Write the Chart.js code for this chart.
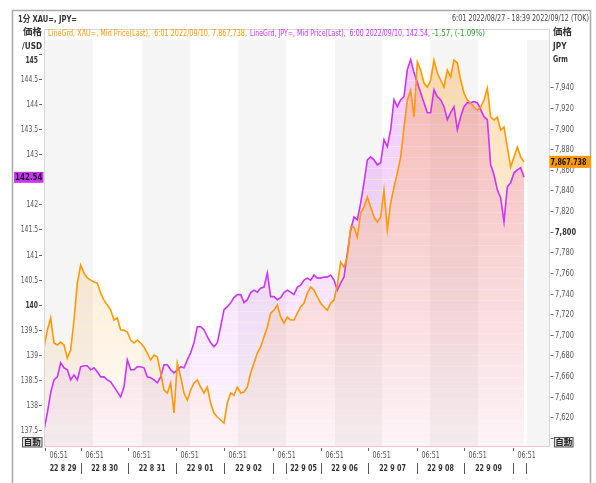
<!DOCTYPE html>
<html lang="ja">
<head>
  <meta charset="UTF-8" />
  <title>XAU=, JPY= 1分</title>
  <script src="https://cdn.jsdelivr.net/npm/chart.js"></script>
  <style>
    * { box-sizing: border-box; margin: 0; padding: 0; }
    body { background: #fff; }
    canvas { display: block; }
  </style>
</head>
<body>
  <canvas id="chart" width="596" height="483"></canvas>

  <script>
    // chart time in hours from 8/29 06:51 (weekend squeezed), one sample every 100 min
    const SAMPLE_START_H = -0.5;
    const SAMPLE_STEP_H = 5 / 3;

    // XAU= in JPY per gram (right axis)
    const xauGrm = [
      7687.2, 7704.7, 7716.3, 7692.1, 7690.1, 7693.0, 7690.1, 7677.5, 7685.3, 7714.4,
      7750.2, 7767.7, 7759.9, 7755.1, 7753.1, 7751.2, 7750.2, 7740.5, 7733.7, 7728.9,
      7724.0, 7714.4, 7716.3, 7704.7, 7704.7, 7702.7, 7695.0, 7692.1, 7695.0, 7692.1,
      7688.2, 7682.3, 7675.6, 7680.4, 7678.5, 7663.0, 7646.5,
      7643.6, 7653.3, 7624.2, 7672.7, 7659.1, 7643.6, 7636.8, 7646.5, 7653.3, 7656.2,
      7649.4, 7643.6, 7649.4, 7633.9, 7624.2, 7620.3, 7617.4, 7614.5, 7633.9, 7643.6,
      7641.6, 7649.4, 7643.6, 7644.5, 7649.4, 7663.0, 7672.7, 7682.3, 7688.2, 7697.9,
      7707.6, 7721.1, 7724.0, 7728.9, 7717.3, 7711.4, 7717.3,
      7714.4, 7714.4, 7721.1, 7727.0, 7730.8, 7740.5, 7746.4, 7743.4, 7736.7, 7730.8,
      7727.0, 7724.0, 7730.8, 7733.7, 7748.3, 7770.6, 7765.7, 7775.4, 7804.5, 7804.5,
      7794.8, 7818.1, 7823.9, 7833.6, 7823.9, 7814.2, 7809.4, 7814.2, 7840.4, 7801.6,
      7827.8, 7843.3, 7856.9, 7872.4, 7901.5, 7927.7,
      7937.4, 7911.2, 7964.5, 7956.8, 7944.2, 7940.3, 7947.1, 7966.5, 7953.9, 7947.1,
      7940.3, 7956.8, 7950.0, 7966.5, 7963.6, 7947.1, 7934.5, 7927.7, 7924.8, 7920.9,
      7918.0, 7920.9, 7927.7, 7939.3, 7911.2, 7908.3, 7911.2, 7898.6, 7901.5, 7882.1,
      7862.7, 7872.4, 7882.1, 7872.4, 7867.738
    ];

    // JPY= (USD/JPY, left axis)
    const jpyUsd = [
      137.50, 137.84, 138.24, 138.50, 138.56, 138.84, 138.74, 138.70, 138.50, 138.60,
      138.50, 138.76, 138.78, 138.78, 138.70, 138.74, 138.66, 138.56, 138.56, 138.50,
      138.46, 138.36, 138.26, 138.16, 138.36, 138.90, 138.70, 138.70, 138.76, 138.76,
      138.74, 138.56, 138.54, 138.50, 138.44, 138.56, 138.80,
      138.80, 138.70, 138.64, 138.70, 138.76, 138.74, 138.90, 139.04, 139.24, 139.56,
      139.56, 139.50, 139.36, 139.24, 139.16, 139.24, 139.56, 139.90, 139.96, 140.04,
      140.14, 140.20, 140.20, 140.04, 140.10, 140.24, 140.29, 140.25, 140.33, 140.35,
      140.63, 140.16, 140.16, 140.10, 140.14, 140.24, 140.29,
      140.25, 140.20, 140.35, 140.39, 140.49, 140.53, 140.49, 140.59, 140.53, 140.53,
      140.55, 140.55, 140.59, 140.49, 140.29, 140.43, 140.55, 141.03, 141.49, 141.75,
      141.69, 142.03, 142.43, 142.89, 142.95, 142.89, 142.79, 142.83, 143.29, 143.15,
      143.49, 144.09, 143.95, 144.09, 144.15, 144.69,
      144.89, 144.63, 144.43, 144.23, 144.03, 143.83, 143.83, 144.29, 144.15, 144.09,
      143.95, 143.69, 143.83, 143.95, 143.49, 143.75, 143.95, 144.03, 144.03, 144.05,
      144.03, 143.89, 143.75, 143.69, 142.79, 142.59, 142.29, 142.13, 141.65, 142.35,
      142.43, 142.63, 142.69, 142.73, 142.54
    ];

    const leftTicks = [137.5, 138, 138.5, 139, 139.5, 140, 140.5, 141, 141.5, 142, 142.5, 143, 143.5, 144, 144.5, 145];
    const rightTicks = [7600, 7620, 7640, 7660, 7680, 7700, 7720, 7740, 7760, 7780, 7800, 7820, 7840, 7860, 7880, 7900, 7920, 7940];
    const rightUnlabeled = [7600];
    const timeTickHours = [0, 18, 41.5, 65.5, 89.5, 114, 138, 161.5, 186, 209.5, 234];
    const timeTickLabel = "06:51";
    const daySepHours = [18, 41.5, 65.5, 89.5, 114, 120.5, 138, 161.5, 186, 209.5, 234, 240.5];
    const dayLabels = ["22 8 29", "22 8 30", "22 8 31", "22 9 01", "22 9 02", "22 9 05", "22 9 06", "22 9 07", "22 9 08", "22 9 09"];
    const dayCenterHours = [9, 29.75, 53.5, 77.5, 101.75, 129.25, 149.75, 173.75, 197.75, 221.75];
    const greyBands = [[-0.5, 24], [48.5, 72.5], [96.5, 120.5], [145, 168.5], [192.5, 216.5], [241, 252.5]];

    const ORANGE = "#ff9900";
    const PURPLE = "#cc33ff";
    const FONT = "'Liberation Sans Narrow', 'DejaVu Sans Condensed', 'Liberation Sans', 'Noto Sans CJK JP', sans-serif";

    const toPoints = arr => arr.map((v, i) => ({ x: SAMPLE_START_H + i * SAMPLE_STEP_H, y: v }));

    // text squeezed to a given width (the original uses a narrow UI font)
    function text(ctx, s, x, y, o) {
      ctx.save();
      ctx.font = o.font;
      ctx.fillStyle = o.color;
      ctx.textBaseline = "middle";
      ctx.textAlign = o.align || "left";
      const sx = o.width ? o.width / ctx.measureText(s).width : (o.sx || 1);
      ctx.translate(x, y);
      ctx.scale(sx, 1);
      ctx.fillText(s, 0, 0);
      ctx.restore();
    }
    function squeeze(ctx, font, sample, width) {
      ctx.save(); ctx.font = font;
      const w = ctx.measureText(sample).width;
      ctx.restore();
      return width / w;
    }

    // gradient fill with faint horizontal banding
    const fillCache = {};
    function bandedFill(chart, key, rgb, aTop, aBottom) {
      if (fillCache[key]) return fillCache[key];
      const a = chart.chartArea;
      const c = document.createElement("canvas");
      c.width = 1; c.height = chart.height;
      const g = c.getContext("2d");
      for (let y = 0; y < c.height; y++) {
        const t = Math.min(1, Math.max(0, (y - a.top) / (a.bottom - a.top)));
        const alpha = aTop + (aBottom - aTop) * t;
        const stripe = y > a.top && (y - a.top) % 11 === 7;
        g.fillStyle = stripe ? "rgba(228,100,150," + (alpha * 0.8).toFixed(3) + ")"
                             : "rgba(" + rgb + "," + alpha.toFixed(3) + ")";
        g.fillRect(0, y, 1, 1);
      }
      fillCache[key] = chart.ctx.createPattern(c, "repeat");
      return fillCache[key];
    }

    const decor = {
      id: "decor",
      beforeDraw(chart) {
        const { ctx, chartArea: a, scales: { x } } = chart;
        ctx.save();
        ctx.fillStyle = "#fff";
        ctx.fillRect(0, 0, chart.width, chart.height);
        ctx.fillStyle = "#f5f5f5";
        greyBands.forEach(([s, e]) => {
          const x0 = Math.max(a.left, x.getPixelForValue(s));
          const x1 = Math.min(a.right, x.getPixelForValue(e));
          ctx.fillRect(x0, a.top, x1 - x0, a.bottom - a.top);
        });
        ctx.restore();
      },
      afterDraw(chart) {
        const { ctx, chartArea: a, scales: { x, yL, yR } } = chart;
        ctx.save();

        // frames
        ctx.strokeStyle = "#a8a8a8";
        ctx.lineWidth = 1.5;
        ctx.beginPath();
        ctx.moveTo(12.5, chart.height); ctx.lineTo(12.5, 10.5);
        ctx.lineTo(590.5, 10.5); ctx.lineTo(590.5, chart.height);
        ctx.stroke();
        ctx.lineWidth = 1;
        ctx.strokeStyle = "#d6d6d6";
        ctx.strokeRect(a.left + 0.5, 29.5, a.right - a.left - 1, a.bottom - 29);
        ctx.strokeStyle = "#ecc4d4";
        ctx.beginPath(); ctx.moveTo(a.left, a.bottom + 0.5); ctx.lineTo(a.right, a.bottom + 0.5); ctx.stroke();

        // header
        text(ctx, "1分 XAU=, JPY=", 18, 19.5, { font: "bold 9.5px " + FONT, color: "#333", width: 59 });
        text(ctx, "6:01 2022/08/27 - 18:39 2022/09/12 (TOK)", 589, 19, { font: "9.5px " + FONT, color: "#444", width: 137, align: "right" });

        // legend line
        const lastXau = xauGrm[xauGrm.length - 1];
        const lastJpy = jpyUsd[jpyUsd.length - 1];
        const xauStr = lastXau.toLocaleString("en-US", { minimumFractionDigits: 3 });
        const jpyStr = lastJpy.toFixed(2);
        text(ctx, "LineGrd, XAU=, Mid Price(Last),  6:01 2022/09/10, " + xauStr + ",", 48, 33.5, { font: "8.5px " + FONT, color: ORANGE, width: 199 });
        text(ctx, "LineGrd, JPY=, Mid Price(Last),  6:00 2022/09/10, " + jpyStr + ",", 250, 33.5, { font: "8.5px " + FONT, color: PURPLE, width: 180 });
        text(ctx, "-1.57, (-1.09%)", 432, 33.5, { font: "8.5px " + FONT, color: "#2f9f2f", width: 53 });

        // axis titles
        text(ctx, "価格", 32.5, 33, { font: "bold 9.5px " + FONT, color: "#333", align: "center" });
        text(ctx, "/USD", 32, 46.5, { font: "bold 9.5px " + FONT, color: "#333", width: 20, align: "center" });
        text(ctx, "価格", 553, 33, { font: "bold 9.5px " + FONT, color: "#333" });
        text(ctx, "JPY", 553, 46.5, { font: "bold 9.5px " + FONT, color: "#333", width: 13.5 });
        text(ctx, "Grm", 553, 60, { font: "bold 9.5px " + FONT, color: "#333", width: 15 });

        // left axis
        const tickFont = "9.5px " + FONT;
        const sxL = squeeze(ctx, tickFont, "144.5", 17.3);
        ctx.strokeStyle = "#666";
        leftTicks.forEach(v => {
          const y = Math.round(yL.getPixelForValue(v)) + 0.5;
          ctx.beginPath(); ctx.moveTo(39, y); ctx.lineTo(42, y); ctx.stroke();
          const major = v % 5 === 0;
          const dy = v === leftTicks[leftTicks.length - 1] ? 6 : 0;
          text(ctx, String(v), 38, y + dy, { font: (major ? "bold " : "") + tickFont, color: major ? "#333" : "#555", sx: sxL, align: "right" });
        });

        // right axis
        const sxR = squeeze(ctx, tickFont, "7,940", 19);
        rightTicks.forEach(v => {
          const y = Math.round(yR.getPixelForValue(v)) + 0.5;
          ctx.beginPath(); ctx.moveTo(550.5, y); ctx.lineTo(553.5, y); ctx.stroke();
          if (rightUnlabeled.includes(v)) return;
          const major = v % 200 === 0;
          text(ctx, v.toLocaleString("en-US"), 555, y, { font: (major ? "bold " : "") + tickFont, color: major ? "#333" : "#555", sx: sxR });
        });

        // time axis
        const timeFont = "8.5px " + FONT;
        const sxT = squeeze(ctx, timeFont, timeTickLabel, 18.3);
        timeTickHours.forEach(h => {
          const px = Math.round(x.getPixelForValue(h)) + 0.5;
          ctx.beginPath(); ctx.moveTo(px, 448); ctx.lineTo(px, 451); ctx.stroke();
          text(ctx, timeTickLabel, Math.max(43, px + 4), 456, { font: timeFont, color: "#555", sx: sxT });
        });
        const dayFont = "bold 9.5px " + FONT;
        const sxD = squeeze(ctx, dayFont, "22 8 29", 26.7);
        dayLabels.forEach((d, i) => {
          text(ctx, d, x.getPixelForValue(dayCenterHours[i]), 469, { font: dayFont, color: "#333", sx: sxD, align: "center" });
        });
        ctx.strokeStyle = "#555";
        daySepHours.forEach(h => {
          const px = Math.round(x.getPixelForValue(h)) + 0.5;
          ctx.beginPath(); ctx.moveTo(px, 463); ctx.lineTo(px, 474); ctx.stroke();
        });

        // last value boxes
        const yj = yL.getPixelForValue(lastJpy);
        ctx.fillStyle = PURPLE;
        ctx.fillRect(14, yj - 5.5, 29.5, 11);
        text(ctx, jpyStr, 42.5, yj + 0.5, { font: "bold 9.5px " + FONT, color: "#1a1a1a", width: 27.5, align: "right" });
        const yx = yR.getPixelForValue(lastXau);
        ctx.fillStyle = ORANGE;
        ctx.fillRect(549.5, yx - 6, 41.5, 12);
        text(ctx, xauStr, 550.5, yx + 0.5, { font: "bold 9.5px " + FONT, color: "#111", width: 36 });

        // auto-scale buttons
        [[22.5, 19.5], [554.5, 18.5]].forEach(([bx, bw]) => {
          ctx.fillStyle = "#e2e2e2";
          ctx.fillRect(bx, 437.5, bw, 9.5);
          ctx.strokeStyle = "#555";
          ctx.strokeRect(bx, 437.5, bw, 9.5);
          text(ctx, "自動", bx + bw / 2, 442.5, { font: "bold 8.5px " + FONT, color: "#222", align: "center" });
        });

        ctx.restore();
      }
    };

    const chart = new Chart(document.getElementById("chart"), {
      type: "line",
      data: {
        datasets: [
          {
            label: "XAU=",
            data: toPoints(xauGrm),
            yAxisID: "yR",
            borderColor: ORANGE,
            borderWidth: 1.6,
            pointRadius: 0,
            tension: 0,
            fill: "start",
            backgroundColor: c => c.chart.chartArea ? bandedFill(c.chart, "xau", "255,153,0", 0.32, 0.03) : "transparent"
          },
          {
            label: "JPY=",
            data: toPoints(jpyUsd),
            yAxisID: "yL",
            borderColor: PURPLE,
            borderWidth: 1.6,
            pointRadius: 0,
            tension: 0,
            fill: "start",
            backgroundColor: c => c.chart.chartArea ? bandedFill(c.chart, "jpy", "204,51,255", 0.28, 0.04) : "transparent"
          }
        ]
      },
      options: {
        responsive: false,
        animation: false,
        events: [],
        layout: { padding: { top: 40, left: 0, right: 0, bottom: 0 } },
        plugins: {
          legend: { display: false },
          tooltip: { enabled: false },
          filler: { drawTime: "beforeDatasetsDraw" }
        },
        scales: {
          x: {
            type: "linear",
            min: -0.5,
            max: 252.5,
            afterBuildTicks: s => { s.ticks = timeTickHours.map(v => ({ value: v })); },
            grid: { display: false },
            border: { display: false },
            ticks: { display: false },
            afterFit: s => { s.height = 37; }
          },
          yL: {
            position: "left",
            min: 137.18,
            max: 145.28,
            afterBuildTicks: s => { s.ticks = leftTicks.map(v => ({ value: v })); },
            grid: { display: false },
            border: { display: false },
            ticks: { display: false },
            afterFit: s => { s.width = 44; }
          },
          yR: {
            position: "right",
            min: 7592.2,
            max: 7985.9,
            afterBuildTicks: s => { s.ticks = rightTicks.map(v => ({ value: v })); },
            grid: { display: false },
            border: { display: false },
            ticks: { display: false },
            afterFit: s => { s.width = 46; }
          }
        }
      },
      plugins: [decor]
    });
  </script>
</body>
</html>
